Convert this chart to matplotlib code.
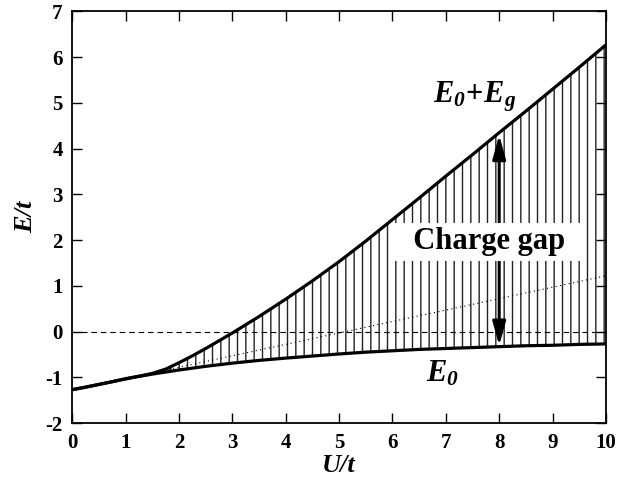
import numpy as np
import matplotlib
matplotlib.use("Agg")
import matplotlib.pyplot as plt

# Values (U/t grid, energies in units of t)
U = [0, 0.25, 0.5, 0.75, 1, 1.25, 1.5, 1.75, 2, 2.25, 2.5, 2.75, 3, 3.25, 3.5, 3.75, 4,
     4.5, 5, 5.5, 6, 6.5, 7, 7.5, 8, 8.5, 9, 9.5, 10]
E0 = [-1.27, -1.215, -1.155, -1.095, -1.035, -0.98, -0.93, -0.885, -0.84, -0.80,
      -0.76, -0.725, -0.69, -0.66, -0.63, -0.605, -0.58,
      -0.535, -0.49, -0.45, -0.42, -0.39, -0.37, -0.35, -0.33, -0.31, -0.30, -0.28, -0.27]
E0_Eg = [-1.27, -1.215, -1.155, -1.095, -1.03, -0.975, -0.915, -0.82, -0.68, -0.53,
         -0.37, -0.20, -0.03, 0.15, 0.33, 0.52, 0.71,
         1.11, 1.53, 1.98, 2.45, 2.92, 3.40, 3.87, 4.35, 4.82, 5.30, 5.78, 6.27]

# dotted reference line (two end points)
dot_U = [1.4, 10]
dot_E = [-0.93, 1.22]

arrow_idx = U.index(8)

plt.rcParams['font.family'] = ['Liberation Serif', 'DejaVu Serif']
plt.rcParams['font.weight'] = 'bold'
plt.rcParams['axes.unicode_minus'] = False
plt.rcParams['mathtext.fontset'] = 'custom'
plt.rcParams['mathtext.rm'] = 'Liberation Serif:bold'
plt.rcParams['mathtext.it'] = 'Liberation Serif:italic:bold'
plt.rcParams['mathtext.bf'] = 'Liberation Serif:bold'
plt.rcParams['mathtext.sf'] = 'Liberation Serif:italic:bold'
plt.rcParams['hatch.linewidth'] = 1.0

fig = plt.figure(figsize=(6.24, 4.78), dpi=100)
ax = fig.add_axes([0.116, 0.115, 0.855, 0.861])

# vertical hatching between the two curves
ax.fill_between(U, E0, E0_Eg, facecolor='none', edgecolor='#222222',
                linewidth=0, hatch='||', zorder=2)

ax.axhline(0, color='black', lw=0.8, ls=(0, (5, 3.5)), zorder=2)
ax.plot(dot_U, dot_E, color='black', lw=0.8, ls=(0, (1, 3)), zorder=2)

ax.plot(U, E0, color='black', lw=2.3, zorder=3, solid_capstyle='butt')
ax.plot(U, E0_Eg, color='black', lw=2.3, zorder=3, solid_capstyle='butt')

# double arrow for the gap at U/t = 8
ax.annotate('', xy=(U[arrow_idx], E0_Eg[arrow_idx] - 0.05),
            xytext=(U[arrow_idx], E0[arrow_idx] + 0.02),
            arrowprops=dict(arrowstyle='<|-|>,head_length=0.8,head_width=0.22',
                            mutation_scale=18, lw=2.2, color='black',
                            shrinkA=0, shrinkB=0),
            zorder=4)

ax.text(7.81, 1.965, '  Charge gap  ', fontsize=22, fontweight='bold',
        ha='center', va='center', zorder=5,
        bbox=dict(boxstyle='square,pad=0.15', fc='white', ec='none'))

ax.text(7.55, 5.02, r'$E_{\mathsf{0}}\!+\!E_{g}$', fontsize=22,
        ha='center', va='baseline', zorder=5)
ax.text(6.93, -1.09, r'$E_{\mathsf{0}}$', fontsize=22,
        ha='center', va='baseline', zorder=5)

ax.set_xlim(0, 10)
ax.set_ylim(-2, 7)
ax.set_xticks(range(0, 11))
ax.set_yticks(range(-2, 8))
ax.tick_params(direction='in', length=7, width=1, top=True, right=True,
               labelsize=15, pad=7)
for s in ax.spines.values():
    s.set_linewidth(1.3)

ax.set_xlabel('U/t', fontsize=19, fontstyle='italic', fontweight='bold', labelpad=1)
ax.set_ylabel('E/t', fontsize=19, fontstyle='italic', fontweight='bold', labelpad=6)

fig.savefig('out.png', dpi=100)
